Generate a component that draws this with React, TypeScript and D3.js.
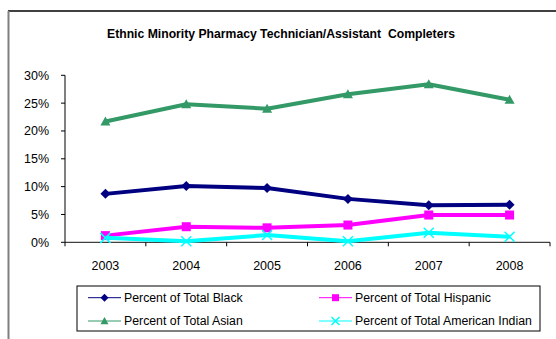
import React from "react";
import * as d3 from "d3";

const years = ["2003", "2004", "2005", "2006", "2007", "2008"];
const black = [8.7, 10.1, 9.75, 7.8, 6.65, 6.75];
const hispanic = [1.2, 2.8, 2.6, 3.1, 4.9, 4.9];
const asian = [21.7, 24.8, 24.0, 26.6, 28.4, 25.6];
const amIndian = [0.8, 0.2, 1.3, 0.2, 1.7, 1.0];
const yTicks = [0, 5, 10, 15, 20, 25, 30];
const title = "Ethnic Minority Pharmacy Technician/Assistant  Completers";

const seriesList = [
  { name: "Percent of Total Black", values: black, color: "#000080", marker: "diamond" },
  { name: "Percent of Total Hispanic", values: hispanic, color: "#FF00FF", marker: "square" },
  { name: "Percent of Total Asian", values: asian, color: "#339966", marker: "triangle" },
  { name: "Percent of Total American Indian", values: amIndian, color: "#00FFFF", marker: "x" },
];

function Marker({ type, x, y, color, s }: { type: string; x: number; y: number; color: string; s: number }) {
  if (type === "diamond") {
    return <path d={`M${x},${y - s}L${x + s},${y}L${x},${y + s}L${x - s},${y}Z`} fill={color} />;
  }
  if (type === "square") {
    return <rect x={x - s} y={y - s} width={2 * s} height={2 * s} fill={color} />;
  }
  if (type === "triangle") {
    return <path d={`M${x},${y - s}L${x + s},${y + s * 0.8}L${x - s},${y + s * 0.8}Z`} fill={color} />;
  }
  return (
    <path d={`M${x - s},${y - s}L${x + s},${y + s}M${x + s},${y - s}L${x - s},${y + s}`} stroke={color} strokeWidth={1.5} fill="none" />
  );
}

export default function App() {
  const W = 556, H = 339;
  const left = 65, right = 550, top = 75.3, bottom = 242.3;
  const x = d3.scaleBand().domain(years).range([left, right]);
  const y = d3.scaleLinear().domain([0, 30]).range([bottom, top]);
  const font = "Arial, 'Liberation Sans', sans-serif";
  const line = d3.line<number>().x((_, i) => x(years[i])! + x.bandwidth() / 2).y((d) => y(d));
  const tickXs = [...years.map((yr) => x(yr)!), right];

  return (
    <svg width={W} height={H} style={{ position: "absolute", left: 0, top: 0 }}>
      <rect x={0} y={0} width={W} height={H} fill="white" />
      <line x1={8} y1={11} x2={W} y2={11} stroke="black" strokeWidth={1.5} />
      <line x1={8.5} y1={11} x2={8.5} y2={H} stroke="#808080" strokeWidth={2} />
      <text x={281} y={38} textAnchor="middle" fontFamily={font} fontWeight="bold" fontSize={12.2} fill="black" style={{ whiteSpace: "pre" }}>
        {title}
      </text>
      {/* y axis */}
      <line x1={left} y1={top} x2={left} y2={bottom} stroke="black" strokeWidth={1} />
      {yTicks.map((t) => (
        <g key={t}>
          <line x1={left - 4} x2={left} y1={y(t)} y2={y(t)} stroke="black" />
          <text x={49} y={y(t) + 4.5} textAnchor="end" fontFamily={font} fontSize={12.5} fill="black">
            {t}%
          </text>
        </g>
      ))}
      {/* x axis */}
      <line x1={left} y1={bottom} x2={right} y2={bottom} stroke="#404040" strokeWidth={1.2} />
      {tickXs.map((tx, i) => (
        <line key={i} x1={tx} x2={tx} y1={bottom} y2={bottom + 4} stroke="black" />
      ))}
      {years.map((yr) => (
        <text key={yr} x={x(yr)! + x.bandwidth() / 2} y={270} textAnchor="middle" fontFamily={font} fontSize={12.5} fill="black">
          {yr}
        </text>
      ))}
      {/* series */}
      {seriesList.map((s) => (
        <g key={s.name}>
          <path d={line(s.values)!} fill="none" stroke={s.color} strokeWidth={4} strokeLinejoin="round" />
          {s.values.map((v, i) => (
            <Marker key={i} type={s.marker} x={x(years[i])! + x.bandwidth() / 2} y={y(v)} color={s.color} s={s.marker === "square" ? 4.5 : 5} />
          ))}
        </g>
      ))}
      {/* legend */}
      <rect x={77} y={286} width={463} height={45} fill="white" stroke="black" strokeWidth={1} />
      {seriesList.map((s, i) => {
        const col = i % 2;
        const row = Math.floor(i / 2);
        const lx = col === 0 ? 88 : 319;
        const ly = row === 0 ? 297.7 : 321;
        return (
          <g key={s.name}>
            <line x1={lx} x2={lx + 33} y1={ly} y2={ly} stroke={s.color} strokeWidth={1} />
            <Marker type={s.marker} x={lx + 16.5} y={ly} color={s.color} s={s.marker === "square" ? 3.5 : 4} />
            <text x={lx + 36} y={ly + 4.3} fontFamily={font} fontSize={12.3} fill="black">
              {s.name}
            </text>
          </g>
        );
      })}
    </svg>
  );
}
